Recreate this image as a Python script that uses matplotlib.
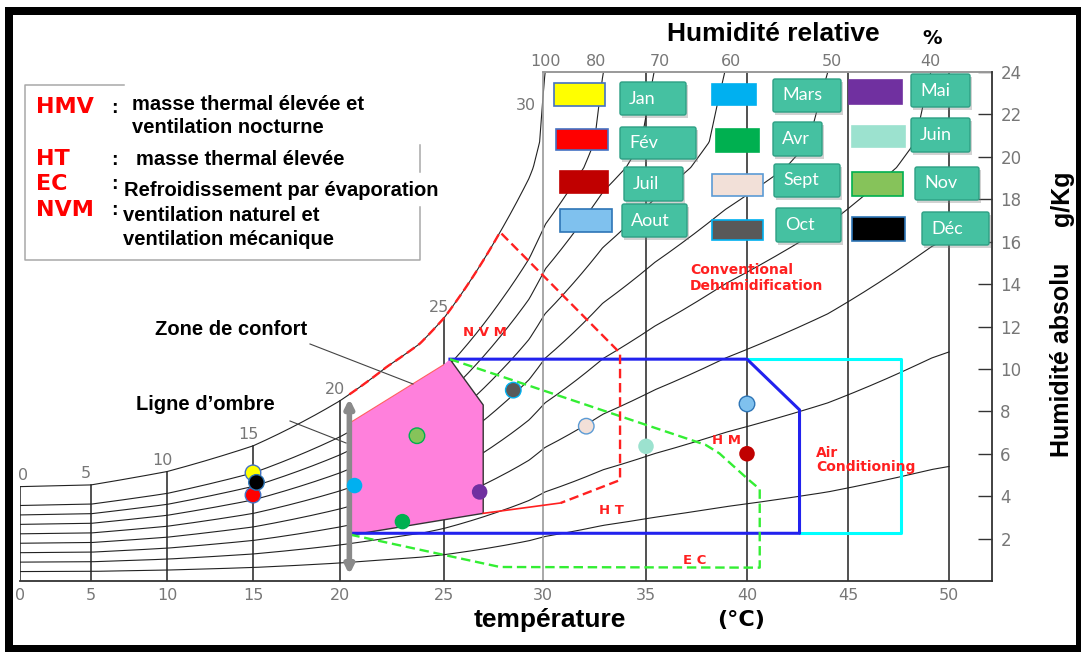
import numpy as np
import matplotlib.pyplot as plt
from matplotlib.patches import Polygon, Rectangle, FancyBboxPatch

months = ['Jan', 'Fév', 'Mars', 'Avr', 'Mai', 'Juin', 'Juil', 'Aout', 'Sept', 'Oct', 'Nov', 'Déc']
month_colors = ['#ffff00', '#ff0000', '#00b0f0', '#00b050', '#7030a0', '#9ce2cf',
                '#c00000', '#7fc1ee', '#f2e0d8', '#595959', '#86c35a', '#000000']
month_edges = ['#4472c4', '#4472c4', 'none', 'none', 'none', 'none',
               'none', '#2e75b6', '#5b9bd5', '#00b0f0', '#00b050', '#2e75b6']
month_temp = [15.0, 15.0, 20.7, 23.0, 26.8, 35.0, 40.0, 40.0, 32.1, 28.5, 23.7, 15.2]
month_hum = [5.1, 4.05, 4.5, 2.8, 4.2, 6.35, 6.0, 8.35, 7.3, 9.0, 6.85, 4.65]

base_temp = [0, 5, 10, 15, 20, 22.25, 23.85, 25, 27.8, 29.3, 30.1, 32.9, 35.4, 38.9, 44, 49.1, 50]
base_hum = [4.45, 4.53, 5.16, 6.37, 8.5, 10.1, 11.2, 12.4, 16.4, 19.0, 21.0, 26.2, 30.0, 35.0, 42.0, 52.5, 54.0]
stretch_in = [0, 19.5, 20.3, 20.6, 21.0, 22.0]
stretch_out = [0, 19.5, 20.7, 22.2, 24.0, 28.0]
rh_curves = [100, 80, 70, 60, 50, 40, 30, 20, 10]
rh_top_labels = ['100', '80', '70', '60', '50', '40']
rh_top_temp = [30.1, 32.6, 35.7, 39.2, 44.2, 49.1]
sat_labels = [0, 5, 10, 15, 20, 25]

temp_ticks = [0, 5, 10, 15, 20, 25, 30, 35, 40, 45, 50]
temp_px = [20, 91, 167, 253, 340, 444, 543, 646, 747, 848, 949]  # graduation irrégulière
hum_ticks = [2, 4, 6, 8, 10, 12, 14, 16, 18, 20, 22, 24]

# zones (température, humidité)
comfort_t = [20.56, 20.56, 24.97, 25.3, 26.98, 26.98]
comfort_w = [2.17, 7.51, 10.19, 10.46, 8.3, 3.19]
hm_t = [25.3, 40.0, 42.6, 42.6, 20.56]
hm_w = [10.46, 10.46, 8.07, 2.25, 2.25]
ac_t = [40.0, 47.6, 47.6, 42.6]
ac_w = [10.46, 10.46, 2.25, 2.25]
ec_t = [25.3, 37.95, 38.63, 40.0, 40.63, 40.63, 27.83, 20.56]
ec_w = [10.46, 6.42, 6.02, 4.84, 4.33, 0.63, 0.66, 2.17]
nvm_t = [27.83, 33.74, 33.74, 30.86]
nvm_w = [16.2, 10.75, 4.76, 3.68]
ht_t = [30.86, 26.98]
ht_w = [3.68, 3.19]
shade_t = 20.45
shade_w = [8.6, 0.3]


def rh_line(rh, t):
    w = rh / 100 * np.exp(np.interp(t, base_temp, np.log(base_hum)))
    return np.interp(w, stretch_in, stretch_out)


temp_ext = [-5] + temp_ticks + [55]
px_ext = [-51] + temp_px + [1050]


def t_to_px(t):
    return np.interp(t, temp_ext, px_ext)


def px_to_t(p):
    return np.interp(p, px_ext, temp_ext)


fig = plt.figure(figsize=(10.81, 6.52), dpi=100)
ax = fig.add_axes([20 / 1081, 71 / 652, 972 / 1081, 509 / 652])
ax.set_xscale('function', functions=(t_to_px, px_to_t))
ax.set_xlim(0, px_to_t(992))
ax.set_ylim(0, 24)

# courbes d'humidité relative
tg = np.linspace(0, 50, 1000)
for rh in rh_curves:
    ax.plot(tg, rh_line(rh, tg), color='#222222', lw=0.8, zorder=2)

# verticales
ax.plot([0, 0], [0, rh_line(100, 0)], color='#222222', lw=1.1)
for t in temp_ticks[1:6]:
    ax.plot([t, t], [0, rh_line(100, t)], color='#222222', lw=1.1, zorder=2)
for t in temp_ticks[7:]:
    ax.plot([t, t], [0, 24], color='#222222', lw=1.1, zorder=2)
ax.plot([30, 30], [0, 24], color='#999999', lw=1.2, zorder=2)
ax.plot([30, px_to_t(992)], [24, 24], color='#999999', lw=1.4, zorder=2, clip_on=False)

# zone de confort
ax.add_patch(Polygon(list(zip(comfort_t, comfort_w)), closed=True, fc='#ff80dc', ec='none', zorder=3))
ax.plot(comfort_t[3:] + [comfort_t[0]], comfort_w[3:] + [comfort_w[0]], color='#333333', lw=1.0, zorder=4)
ax.plot(comfort_t[1:3], comfort_w[1:3], color='#ff6060', lw=0.8, zorder=4)

# HM et climatisation
ax.plot(ac_t, ac_w, color='#00ffff', lw=2.2, zorder=4)
ax.plot(hm_t, hm_w, color='#2222ee', lw=2.2, zorder=4)

# refroidissement par évaporation
ax.plot(ec_t, ec_w, color='#33ee33', lw=1.7, ls=(0, (4, 2)), zorder=4)

# NVM / HT
ts = np.linspace(shade_t, nvm_t[0], 60)
ax.plot(np.r_[ts, nvm_t[1:]], np.r_[rh_line(100, ts), nvm_w[1:]], color='#ff2020', lw=1.7,
        ls=(0, (4, 2)), zorder=4)
ax.plot(ht_t, ht_w, color='#ff2020', lw=1.2, zorder=4)

# ligne d'ombre
ax.annotate('', xy=(shade_t, shade_w[1]), xytext=(shade_t, shade_w[0]),
            arrowprops=dict(arrowstyle='<|-|>', color='#8a8a8a', lw=4, mutation_scale=12,
                            shrinkA=0, shrinkB=0), zorder=5)

# points mensuels
ax.scatter(month_temp, month_hum, s=125, c=month_colors, edgecolors=month_edges, linewidths=1, zorder=6)

# étiquettes des courbes
for lbl, t in zip(rh_top_labels, rh_top_temp):
    ax.annotate(lbl, (t, 24), xytext=(0, 11), textcoords='offset pixels', ha='center', va='center',
                fontsize=11.5, color='#777777', annotation_clip=False)
for t in sat_labels:
    ax.annotate(str(t), (t, rh_line(100, t)), xytext=(-5 if t else 3, 11), textcoords='offset pixels',
                ha='center', va='center', fontsize=11.5, color='#777777')
ax.annotate('30', (30.0, 22.4), xytext=(-17, 0), textcoords='offset pixels', ha='center', va='center',
            fontsize=11.5, color='#777777')

ax.set_xticks(temp_ticks)
ax.set_xticklabels([str(t) for t in temp_ticks])
ax.tick_params(axis='x', length=0, pad=5, labelsize=11.5, labelcolor='#777777')
ax.yaxis.tick_right()
ax.set_yticks(hum_ticks)
ax.set_yticklabels([str(v) for v in hum_ticks])
ax.tick_params(axis='y', direction='in', length=10, width=1, color='#333333',
               labelsize=12, labelcolor='#777777', pad=6)
ax.spines['left'].set_visible(False)
ax.spines['top'].set_visible(False)
for s in ['right', 'bottom']:
    ax.spines[s].set_color('#333333')
    ax.spines[s].set_linewidth(1.3)

# calque en pixels pour les textes et la légende
ov = fig.add_axes([0, 0, 1, 1], zorder=5)
ov.set_xlim(0, 1081)
ov.set_ylim(652, 0)
ov.axis('off')
ov.patch.set_visible(False)

arial = dict(family='Liberation Sans', fontweight='bold', color='black')
verd = dict(family='DejaVu Sans', fontweight='bold', color='#ff0000')

# cadre de la légende des stratégies
ov.plot([124, 25, 25, 420, 420], [85, 85, 260, 260, 207], color='#a8a8a8', lw=1.1)
ov.plot([420, 420], [172, 145], color='#a8a8a8', lw=1.1)

for code, yb in [('HMV', 113), ('HT', 165), ('EC', 190), ('NVM', 216)]:
    ov.text(36, yb, code, fontsize=16, va='baseline', **verd)
for yb in [113, 165, 189, 215]:
    ov.text(111, yb, ':', fontsize=14, va='baseline', **arial)
ov.text(132, 110, 'masse thermal élevée et', fontsize=14.5, va='baseline', **arial)
ov.text(132, 133, 'ventilation nocturne', fontsize=14.5, va='baseline', **arial)
ov.text(136, 165, 'masse thermal élevée', fontsize=14.5, va='baseline', **arial)
ov.text(124, 196, 'Refroidissement par évaporation', fontsize=14.5, va='baseline', **arial)
ov.text(123, 221, 'ventilation naturel et', fontsize=14.5, va='baseline', **arial)
ov.text(123, 245, 'ventilation mécanique', fontsize=14.5, va='baseline', **arial)

ov.text(155, 335, 'Zone de confort', fontsize=14.5, va='baseline', **arial)
ov.text(136, 410, 'Ligne d\u2019ombre', fontsize=14.5, va='baseline', **arial)
ov.plot([310, 413], [344, 384], color='#444444', lw=0.8)
ov.plot([290, 346], [421, 443], color='#444444', lw=0.8)

ov.text(667, 41, 'Humidité relative', fontsize=19, va='baseline', **arial)
ov.text(922, 44, '%', fontsize=14, va='baseline', family='DejaVu Sans', fontweight='bold', color='black')
ov.text(474, 627, 'température', fontsize=19, va='baseline', **arial)
ov.text(741, 620, '(°C)', fontsize=16, ha='center', va='center', family='DejaVu Sans', fontweight='bold')
ov.text(1062, 198, 'g/Kg', fontsize=18, rotation=90, ha='center', va='center', **arial)
ov.text(1062, 360, 'Humidité absolu', fontsize=18, rotation=90, ha='center', va='center', **arial)

red_small = dict(family='DejaVu Sans', fontweight='bold', color='#ff2020')
ov.text(485, 332, 'N V M', fontsize=9.5, ha='center', va='center', **red_small)
ov.text(611, 510, 'H T', fontsize=9.5, ha='center', va='center', **red_small)
ov.text(695, 560, 'E C', fontsize=9.5, ha='center', va='center', **red_small)
ov.text(727, 441, 'H M', fontsize=9.5, ha='center', va='center', **red_small)
ov.text(690, 278, 'Conventional\nDehumidification', fontsize=10, va='center', linespacing=1.15, **red_small)
ov.text(816, 460, 'Air\nConditioning', fontsize=10, va='center', linespacing=1.0, **red_small)

# légende des mois : (pastille), (bouton)
legend_layout = {
    'Jan': ((554, 83, 51, 23), (620, 82, 66, 33)),
    'Fév': ((556, 129, 52, 21), (620, 127, 76, 32)),
    'Juil': ((560, 171, 48, 22), (624, 167, 59, 34)),
    'Aout': ((560, 209, 52, 23), (622, 204, 65, 33)),
    'Mars': ((712, 84, 44, 21), (773, 79, 68, 33)),
    'Avr': ((716, 129, 43, 23), (773, 122, 49, 34)),
    'Sept': ((712, 174, 51, 22), (774, 164, 66, 33)),
    'Oct': ((712, 220, 51, 20), (776, 208, 65, 34)),
    'Mai': ((849, 80, 53, 24), (911, 74, 59, 33)),
    'Juin': ((852, 126, 53, 21), (911, 118, 59, 34)),
    'Nov': ((852, 172, 51, 24), (915, 167, 64, 33)),
    'Déc': ((852, 217, 53, 24), (922, 212, 67, 33)),
}
for name, col, edge in zip(months, month_colors, month_edges):
    (sx, sy, sw, sh), (bx, by, bw, bh) = legend_layout[name]
    ov.add_patch(Rectangle((sx, sy), sw, sh, fc=col, ec=edge if edge != 'none' else col, lw=1.2))
    ov.add_patch(Rectangle((bx + 2, by + 3), bw, bh, fc='#808080', ec='none', alpha=0.35))
    ov.add_patch(FancyBboxPatch((bx, by), bw, bh, boxstyle='round,pad=0,rounding_size=2',
                                fc='#45c1a1', ec='#2d9f84', lw=1))
    ov.text(bx + 9, by + bh / 2, name, fontsize=13, family='Lato', color='white', va='center')

# cadre noir
for r in [(5, 7, 1076, 8), (5, 7, 8, 645), (5, 645, 1076, 7), (1076, 7, 5, 645)]:
    ov.add_patch(Rectangle((r[0], r[1]), r[2], r[3], fc='black', ec='none', clip_on=False))

fig.savefig('out.png', dpi=100)
